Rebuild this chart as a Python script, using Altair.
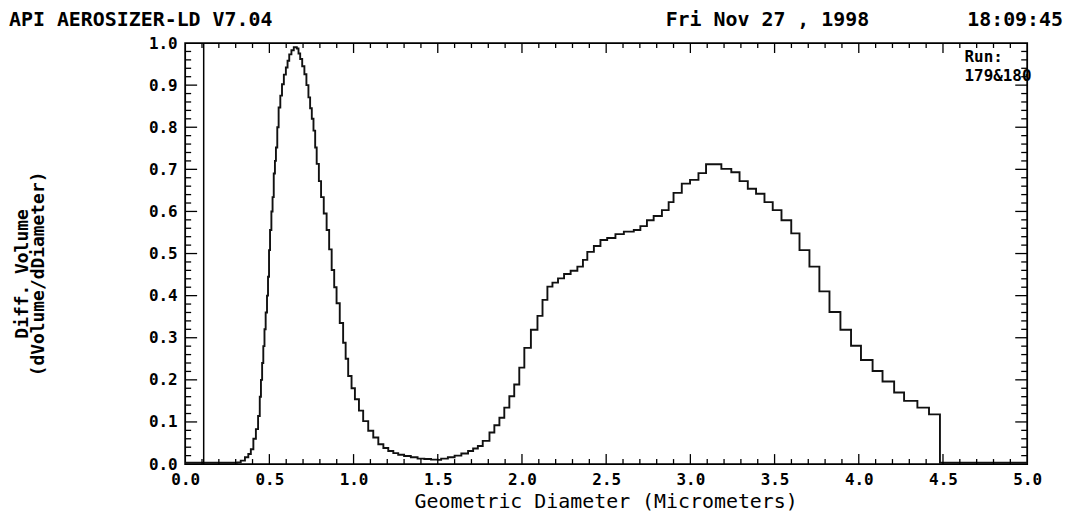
import altair as alt
import pandas as pd

# Geometric diameter bin starts (micrometers) and differential volume values (step data)
diameter = [
    0.00, 0.31, 0.33, 0.355, 0.375, 0.39, 0.405, 0.42, 0.433, 0.443, 0.45, 0.457,
    0.464, 0.471, 0.478, 0.486, 0.492, 0.498, 0.504, 0.512, 0.519, 0.526, 0.533,
    0.539, 0.547, 0.555, 0.565, 0.575, 0.586, 0.598, 0.608, 0.618, 0.631, 0.645,
    0.663, 0.673, 0.683, 0.695, 0.708, 0.72, 0.732, 0.742, 0.752, 0.762, 0.772,
    0.781, 0.794, 0.807, 0.823, 0.84, 0.855, 0.87, 0.885, 0.899, 0.918, 0.938,
    0.953, 0.968, 0.988, 1.008, 1.032, 1.057, 1.087, 1.117, 1.147, 1.177, 1.206,
    1.236, 1.265, 1.30, 1.34, 1.38, 1.42, 1.46, 1.50, 1.52, 1.56, 1.60, 1.64,
    1.68, 1.71, 1.738, 1.767, 1.807, 1.836, 1.866, 1.895, 1.925, 1.954, 1.984,
    2.014, 2.053, 2.092, 2.122, 2.151, 2.181, 2.214, 2.250, 2.289, 2.329, 2.362,
    2.388, 2.427, 2.466, 2.506, 2.555, 2.605, 2.664, 2.703, 2.742, 2.782, 2.831,
    2.871, 2.900, 2.949, 2.998, 3.048, 3.093, 3.184, 3.243, 3.292, 3.341, 3.390,
    3.440, 3.489, 3.541, 3.599, 3.648, 3.707, 3.766, 3.826, 3.891, 3.954, 4.013,
    4.082, 4.141, 4.210, 4.269, 4.348, 4.417, 4.482, 5.0,
]
diff_volume = [
    0.003, 0.004, 0.008, 0.016, 0.024, 0.035, 0.06, 0.083, 0.114, 0.16, 0.20, 0.24,
    0.28, 0.32, 0.36, 0.40, 0.445, 0.508, 0.556, 0.60, 0.634, 0.69, 0.72,
    0.752, 0.80, 0.847, 0.875, 0.902, 0.925, 0.942, 0.958, 0.973, 0.983, 0.99,
    0.987, 0.975, 0.962, 0.945, 0.926, 0.90, 0.871, 0.845, 0.82, 0.792, 0.752,
    0.713, 0.672, 0.634, 0.595, 0.556, 0.51, 0.461, 0.42, 0.382, 0.335, 0.288,
    0.25, 0.209, 0.18, 0.154, 0.127, 0.102, 0.079, 0.063, 0.047, 0.038, 0.031,
    0.026, 0.022, 0.019, 0.016, 0.013, 0.012, 0.0105, 0.010, 0.013, 0.016, 0.020, 0.025,
    0.031, 0.037, 0.043, 0.055, 0.075, 0.092, 0.110, 0.134, 0.161, 0.189, 0.229,
    0.276, 0.319, 0.352, 0.390, 0.4215, 0.431, 0.441, 0.4515, 0.459, 0.469, 0.485,
    0.504, 0.518, 0.532, 0.537, 0.546, 0.552, 0.556, 0.565, 0.579, 0.589, 0.603,
    0.622, 0.644, 0.666, 0.675, 0.691, 0.712, 0.701, 0.693, 0.672, 0.654, 0.642,
    0.622, 0.603, 0.579, 0.548, 0.508, 0.469, 0.41, 0.361, 0.319, 0.281, 0.247,
    0.221, 0.196, 0.17, 0.15, 0.134, 0.118, 0.003, 0.003,
]

# Axis label values and tick positions
x_labels = [0.0, 0.5, 1.0, 1.5, 2.0, 2.5, 3.0, 3.5, 4.0, 4.5, 5.0]
y_labels = [0.0, 0.1, 0.2, 0.3, 0.4, 0.5, 0.6, 0.7, 0.8, 0.9, 1.0]
x_major_ticks = [0.5, 1.0, 1.5, 2.0, 2.5, 3.0, 3.5, 4.0, 4.5]
x_minor_ticks = [0.1, 0.2, 0.3, 0.4, 0.6, 0.7, 0.8, 0.9, 1.1, 1.2, 1.3, 1.4,
                 1.6, 1.7, 1.8, 1.9, 2.1, 2.2, 2.3, 2.4, 2.6, 2.7, 2.8, 2.9,
                 3.1, 3.2, 3.3, 3.4, 3.6, 3.7, 3.8, 3.9, 4.1, 4.2, 4.3, 4.4,
                 4.6, 4.7, 4.8, 4.9]
y_major_ticks = [0.1, 0.2, 0.3, 0.4, 0.5, 0.6, 0.7, 0.8, 0.9]
y_minor_ticks = [0.02, 0.04, 0.06, 0.08, 0.12, 0.14, 0.16, 0.18, 0.22, 0.24, 0.26, 0.28,
                 0.32, 0.34, 0.36, 0.38, 0.42, 0.44, 0.46, 0.48, 0.52, 0.54, 0.56, 0.58,
                 0.62, 0.64, 0.66, 0.68, 0.72, 0.74, 0.76, 0.78, 0.82, 0.84, 0.86, 0.88,
                 0.92, 0.94, 0.96, 0.98]
marker_line = [0.11]

header_left = "API AEROSIZER-LD V7.04"
header_date = "Fri Nov 27 , 1998"
header_time = "18:09:45"
run_label = "Run:"
run_value = "179&180"
y_title_1 = "Diff. Volume"
y_title_2 = "(dVolume/dDiameter)"
x_title = "Geometric Diameter (Micrometers)"

W, H = 846, 423
MONO = "DejaVu Sans Mono"

df = pd.DataFrame({"d": diameter, "v": diff_volume})

xscale = alt.Scale(domain=[0, 5], nice=False, zero=False)
yscale = alt.Scale(domain=[0, 1], nice=False, zero=False)

x_axis = alt.Axis(values=x_labels, format=".1f", ticks=False, domain=False, grid=False,
                  labelFont=MONO, labelFontWeight="bold", labelFontSize=16,
                  labelColor="black", labelPadding=8, labelFlush=False,
                  labelOverlap=False, title=None)
y_axis = alt.Axis(values=y_labels, format=".1f", ticks=False, domain=False, grid=False,
                  labelFont=MONO, labelFontWeight="bold", labelFontSize=16,
                  labelColor="black", labelPadding=8, labelFlush=False,
                  labelOverlap=False, title=None)

line = alt.Chart(df).mark_line(interpolate="step-after", color="#111111",
                               strokeWidth=1.9).encode(
    x=alt.X("d:Q", scale=xscale, axis=x_axis),
    y=alt.Y("v:Q", scale=yscale, axis=y_axis),
)


def xticks(vals, length):
    d = pd.DataFrame({"t": vals})
    bottom = alt.Chart(d).mark_rule(color="black", strokeWidth=1.3).encode(
        x=alt.X("t:Q", scale=xscale, axis=x_axis),
        y=alt.value(H), y2=alt.value(H - length))
    top = alt.Chart(d).mark_rule(color="black", strokeWidth=1.3).encode(
        x=alt.X("t:Q", scale=xscale, axis=x_axis),
        y=alt.value(0), y2=alt.value(length))
    return [bottom, top]


def yticks(vals, length):
    d = pd.DataFrame({"t": vals})
    left = alt.Chart(d).mark_rule(color="black", strokeWidth=1.3).encode(
        y=alt.Y("t:Q", scale=yscale, axis=y_axis),
        x=alt.value(0), x2=alt.value(length))
    right = alt.Chart(d).mark_rule(color="black", strokeWidth=1.3).encode(
        y=alt.Y("t:Q", scale=yscale, axis=y_axis),
        x=alt.value(W), x2=alt.value(W - length))
    return [left, right]


marker = alt.Chart(pd.DataFrame({"m": marker_line})).mark_rule(
    color="black", strokeWidth=1.5).encode(
    x=alt.X("m:Q", scale=xscale, axis=x_axis), y=alt.value(0), y2=alt.value(H))


def label(text, x, y, align="left", size=20, weight="bold", angle=0):
    d = pd.DataFrame({"s": [text]})
    return alt.Chart(d).mark_text(font=MONO, fontSize=size, fontWeight=weight,
                                  align=align, baseline="middle", color="black",
                                  angle=angle).encode(
        x=alt.value(x), y=alt.value(y), text="s:N")


texts = [
    label(header_left, -177, -23),
    label(header_date, 585, -23, align="center"),
    label(header_time, 882, -23, align="right"),
    label(run_label, 783, 14, size=16),
    label(run_value, 783, 33, size=16),
    label(y_title_1, -163, 232, align="center", size=18, angle=270),
    label(y_title_2, -147, 232, align="center", size=18, angle=270),
    label(x_title, 423, 461, align="center", size=20, weight="normal"),
]

layers = [line, marker]
layers += xticks(x_minor_ticks, 5) + xticks(x_major_ticks, 10)
layers += yticks(y_minor_ticks, 6) + yticks(y_major_ticks, 12)
layers += texts

chart = alt.layer(*layers).properties(
    width=W, height=H,
    autosize=alt.AutoSizeParams(type="none"),
    padding={"left": 178, "top": 34, "right": 40, "bottom": 50},
    background="white",
).configure_view(stroke="black", strokeWidth=1.8)

chart.save("out.html", embed_options={"renderer": "svg", "actions": False})
